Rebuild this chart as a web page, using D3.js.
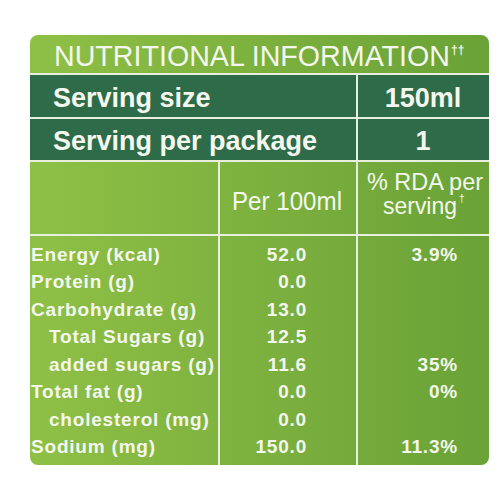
<!DOCTYPE html>
<html><head><meta charset="utf-8">
<script src="https://cdn.jsdelivr.net/npm/d3@7"></script>
<style>body{margin:0;background:#fff}</style>
</head><body>
<script>
var nutrients = ['Energy (kcal)', 'Protein (g)', 'Carbohydrate (g)', 'Total Sugars (g)',
    'added sugars (g)', 'Total fat (g)', 'cholesterol (mg)', 'Sodium (mg)'];
var indented = [false, false, false, true, true, false, true, false];
var per100 = ['52.0', '0.0', '13.0', '12.5', '11.6', '0.0', '0.0', '150.0'];
var rda = ['3.9%', '', '', '', '35%', '0%', '', '11.3%'];
var servingRows = [['Serving size', '150ml'], ['Serving per package', '1']];

var svg = d3.select('body').append('svg').attr('width', 500).attr('height', 500);
var defs = svg.append('defs');
var g = defs.append('linearGradient').attr('id', 'bg');
g.append('stop').attr('offset', '0').attr('stop-color', '#8fc046');
g.append('stop').attr('offset', '1').attr('stop-color', '#6aa237');
defs.append('clipPath').attr('id', 'clip').append('rect')
    .attr('x', 30).attr('y', 35).attr('width', 459).attr('height', 430).attr('rx', 8);

var L = 30, R = 489, c1 = 219, c2 = 357;
var root = svg.append('g').attr('clip-path', 'url(#clip)');
root.append('rect').attr('x', L).attr('y', 35).attr('width', R - L).attr('height', 430).attr('fill', 'url(#bg)');

var font = '"Liberation Sans", Arial, sans-serif';
var white = '#f4f7ee';

svg.append('text').attr('x', 54).attr('y', 66).attr('fill', white)
    .attr('font-family', font).attr('font-size', 29).attr('textLength', 396)
    .attr('lengthAdjust', 'spacingAndGlyphs').text('NUTRITIONAL INFORMATION');
svg.append('text').attr('x', 451).attr('y', 54).attr('fill', white)
    .attr('font-family', font).attr('font-size', 12).attr('font-weight', 'bold').text('††');

// serving rows
var sy = d3.scaleBand().domain(d3.range(servingRows.length)).range([75, 161]);
var srow = root.selectAll('.srow').data(servingRows).enter().append('g');
srow.append('rect').attr('x', L).attr('y', function (d, i) { return sy(i); })
    .attr('width', R - L).attr('height', sy.bandwidth()).attr('fill', '#2e6b48');
srow.append('text').attr('x', 53).attr('y', function (d, i) { return sy(i) + 32; })
    .attr('fill', white).attr('font-family', font).attr('font-weight', 'bold').attr('font-size', 27)
    .text(function (d) { return d[0]; });
srow.append('text').attr('x', 423).attr('y', function (d, i) { return sy(i) + 32; })
    .attr('text-anchor', 'middle').attr('fill', white).attr('font-family', font)
    .attr('font-weight', 'bold').attr('font-size', 27).text(function (d) { return d[1]; });

// grid lines
var line = function (x1, y1, x2, y2) {
    root.append('line').attr('x1', x1).attr('y1', y1).attr('x2', x2).attr('y2', y2)
        .attr('stroke', '#e8efdc').attr('stroke-width', 2);
};
[74, 118, 161, 235].forEach(function (y) { line(L, y, R, y); });
line(c2, 74, c2, 465);
line(c1, 161, c1, 465);

// header
svg.append('text').attr('x', 232).attr('y', 210).attr('fill', white)
    .attr('font-family', font).attr('font-size', 25).attr('textLength', 110)
    .attr('lengthAdjust', 'spacingAndGlyphs').text('Per 100ml');
svg.append('text').attr('x', 367).attr('y', 190).attr('fill', white)
    .attr('font-family', font).attr('font-size', 24).attr('textLength', 116)
    .attr('lengthAdjust', 'spacingAndGlyphs').text('% RDA per');
svg.append('text').attr('x', 383).attr('y', 214).attr('fill', white)
    .attr('font-family', font).attr('font-size', 24).attr('textLength', 74)
    .attr('lengthAdjust', 'spacingAndGlyphs').text('serving');
svg.append('text').attr('x', 459).attr('y', 202).attr('fill', white)
    .attr('font-family', font).attr('font-size', 10).text('†');

// data rows
var y = d3.scalePoint().domain(d3.range(nutrients.length)).range([261, 453]);
var rows = svg.selectAll('.row').data(nutrients).enter().append('g')
    .attr('font-family', font).attr('font-weight', 'bold').attr('font-size', 19)
    .attr('fill', white).attr('letter-spacing', 0.8);
rows.append('text').attr('x', function (d, i) { return indented[i] ? 49 : 31; })
    .attr('y', function (d, i) { return y(i); }).text(function (d) { return d; });
rows.append('text').attr('x', 307).attr('text-anchor', 'end')
    .attr('y', function (d, i) { return y(i); }).text(function (d, i) { return per100[i]; });
rows.append('text').attr('x', 458).attr('text-anchor', 'end')
    .attr('y', function (d, i) { return y(i); }).text(function (d, i) { return rda[i]; });
</script>
</body></html>
